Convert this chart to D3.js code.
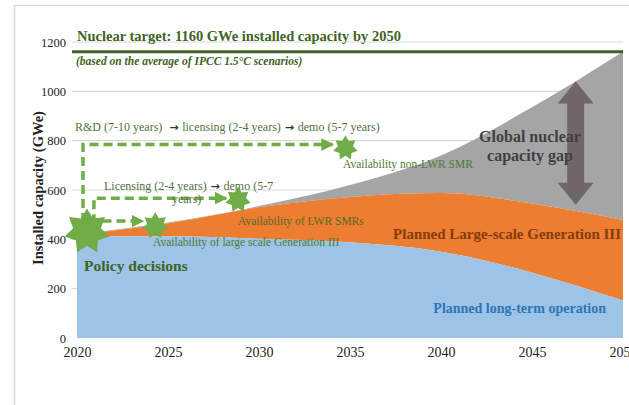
<!DOCTYPE html>
<html>
<head>
<meta charset="utf-8">
<script src="https://cdn.jsdelivr.net/npm/d3@7"></script>
<style>
  body { margin: 0; background: #fff; }
  svg { font-family: "Liberation Serif", "Times New Roman", serif; }
</style>
</head>
<body>
<div id="chart"></div>
<script>
// data (GWe)
const years = [2020, 2025, 2030, 2035, 2040, 2045, 2050];
const longTermOp = [412, 412, 402, 388, 350, 265, 152];
const largeScaleGen3 = [418, 465, 530, 572, 588, 545, 478];
const targetPath = [421, 468, 535, 620, 740, 935, 1160];
const target = 1160;
const yTicks = [0, 200, 400, 600, 800, 1000, 1200];
const xTicks = [2020, 2025, 2030, 2035, 2040, 2045, 2050];

// milestones
const stars = [
  {year: 2020.55, value: 432, r: 23, label: "Policy decisions"},
  {year: 2024.3, value: 455, r: 13.5, label: "Availability  of large scale Generation III"},
  {year: 2028.85, value: 560, r: 13, label: "Availability  of LWR SMRs"},
  {year: 2034.75, value: 770, r: 12.5, label: "Availability  non-LWR SMR"}
];
// dashed timelines (year, GWe)
const paths = [
  [[2020.33, 470], [2020.33, 784], [2034.05, 784]],
  [[2020.93, 465], [2020.93, 567], [2028.2, 567]],
  [[2021.4, 474], [2023.62, 474]]
];

const W = 629, H = 405;
const svg = d3.select("#chart").append("svg")
  .attr("width", W).attr("height", H);

const x = d3.scaleLinear().domain([2020, 2050]).range([77, 623]);
const y = d3.scaleLinear().domain([0, 1200]).range([338, 42]);

// outer frame
svg.append("path")
  .attr("d", "M14.5,405 V5.5 H629")
  .attr("fill", "none").attr("stroke", "#d9d9d9").attr("stroke-width", 1.5);

// gridlines
svg.append("g").selectAll("line").data(yTicks.filter(d => d > 0)).enter().append("line")
  .attr("x1", 72).attr("x2", x(2050))
  .attr("y1", d => y(d)).attr("y2", d => y(d))
  .attr("stroke", "#d9d9d9").attr("stroke-width", 1.2);

const rows = years.map((yr, i) => ({year: yr, a: longTermOp[i], b: largeScaleGen3[i], c: targetPath[i]}));

const area = (lo, hi) => d3.area()
  .x(d => x(d.year)).y0(d => y(lo(d))).y1(d => y(hi(d)))
  .curve(d3.curveMonotoneX);

svg.append("path").datum(rows).attr("fill", "#a5a5a5")
  .attr("d", area(d => d.b, d => d.c));
svg.append("path").datum(rows).attr("fill", "#ed7d31")
  .attr("d", area(d => d.a, d => d.b));
svg.append("path").datum(rows).attr("fill", "#9dc3e6")
  .attr("d", area(d => 0, d => d.a));

// target line
svg.append("line")
  .attr("x1", 72).attr("x2", x(2050))
  .attr("y1", y(target)).attr("y2", y(target))
  .attr("stroke", "#3f6424").attr("stroke-width", 3);

// axes
const yAxis = svg.append("g").attr("transform", `translate(${x(2020) - 8},0)`)
  .call(d3.axisLeft(y).tickValues(yTicks).tickFormat(d3.format("d")).tickSize(0).tickPadding(3));
yAxis.select(".domain").remove();
yAxis.selectAll("text").attr("font-size", "12.5px").attr("fill", "#222")
  .attr("font-family", "Liberation Serif, serif");

const xAxis = svg.append("g").attr("transform", `translate(0,${y(0)})`)
  .call(d3.axisBottom(x).tickValues(xTicks).tickFormat(d3.format("d")).tickSize(0).tickPadding(9));
xAxis.select(".domain").remove();
xAxis.selectAll("text").attr("font-size", "14px").attr("fill", "#222")
  .attr("font-family", "Liberation Serif, serif");

svg.append("text")
  .attr("transform", `translate(43,${y(600) - 2}) rotate(-90)`)
  .attr("text-anchor", "middle").attr("font-weight", "bold")
  .attr("font-size", "14.5px").attr("fill", "#222")
  .text("Installed capacity (GWe)");

// titles
svg.append("text").attr("x", 77).attr("y", 41)
  .attr("font-weight", "bold").attr("font-size", "14.5px").attr("fill", "#3f6424")
  .text("Nuclear target: 1160 GWe installed capacity by 2050");
svg.append("text").attr("x", 76).attr("y", 65)
  .attr("font-weight", "bold").attr("font-style", "italic")
  .attr("font-size", "11.5px").attr("fill", "#3f6424")
  .text("(based on the average of IPCC 1.5°C scenarios)");

// arrowhead
svg.append("defs").append("marker")
  .attr("id", "head").attr("viewBox", "0 0 10 10")
  .attr("refX", 9).attr("refY", 5)
  .attr("markerWidth", 3.6).attr("markerHeight", 3.6)
  .attr("markerUnits", "strokeWidth").attr("orient", "auto")
  .append("path").attr("d", "M0,0 L10,5 L0,10 Z").attr("fill", "#70ad47");

const green = "#70ad47";
const line = d3.line().x(d => x(d[0])).y(d => y(d[1]));
svg.append("g").selectAll("path").data(paths).enter().append("path")
  .attr("d", line)
  .attr("fill", "none").attr("stroke", green).attr("stroke-width", 3.5)
  .attr("stroke-dasharray", "9,5")
  .attr("marker-end", "url(#head)");

// timeline texts with bold arrows
const txtGreen = "#55703f";
function stepText(xp, yp, parts) {
  const t = svg.append("text").attr("x", xp).attr("y", yp)
    .attr("font-size", "12px").attr("fill", txtGreen).attr("xml:space", "preserve");
  parts.forEach((p, i) => {
    if (i > 0) t.append("tspan").attr("font-family", "DejaVu Sans, sans-serif")
      .attr("font-weight", "bold").attr("font-size", "11px").attr("fill", "#333").text(" \u2192 ");
    t.append("tspan").text(p);
  });
}
stepText(75, 131, ["R&D (7-10 years) ", "licensing (2-4 years)", "demo (5-7 years)"]);
stepText(104, 190, ["Licensing (2-4 years)", "demo (5-7"]);
svg.append("text").attr("x", 172).attr("y", 203)
  .attr("font-size", "12px").attr("fill", txtGreen)
  .text("years)");

// stars
const star = r => {
  const pts = d3.range(14).map(i => {
    const a = i * Math.PI / 7;
    const rr = i % 2 ? r * 0.62 : r;
    return [rr * Math.sin(a), -rr * Math.cos(a)];
  });
  return "M" + pts.join("L") + "Z";
};
svg.append("g").selectAll("path").data(stars).enter().append("path")
  .attr("transform", d => `translate(${x(d.year)},${y(d.value)})`)
  .attr("d", d => star(d.r))
  .attr("fill", green);

svg.append("text").attr("x", 84).attr("y", 271)
  .attr("font-weight", "bold").attr("font-size", "15.5px").attr("fill", "#3f6424")
  .text(stars[0].label);
svg.append("text").attr("x", 153).attr("y", 246)
  .attr("font-size", "11.5px").attr("fill", "#4f7a35")
  .text(stars[1].label);
svg.append("text").attr("x", 238).attr("y", 225)
  .attr("font-size", "11.5px").attr("fill", "#556b25")
  .text(stars[2].label);
svg.append("text").attr("x", 343).attr("y", 168)
  .attr("font-size", "11.5px").attr("fill", "#4f7a35")
  .text(stars[3].label);

// gap arrow
const ax = x(2047.4), arrTop = y(1040), arrBot = y(540);
svg.append("path")
  .attr("d", `M${ax},${arrTop} L${ax + 18},${arrTop + 22} L${ax + 8.5},${arrTop + 22} L${ax + 8.5},${arrBot - 22}
    L${ax + 18},${arrBot - 22} L${ax},${arrBot} L${ax - 18},${arrBot - 22} L${ax - 8.5},${arrBot - 22}
    L${ax - 8.5},${arrTop + 22} L${ax - 18},${arrTop + 22} Z`)
  .attr("fill", "#6f6767");

svg.append("text").attr("x", 530).attr("y", 142)
  .attr("text-anchor", "middle").attr("font-weight", "bold")
  .attr("font-size", "16px").attr("fill", "#404040")
  .text("Global nuclear");
svg.append("text").attr("x", 530).attr("y", 161)
  .attr("text-anchor", "middle").attr("font-weight", "bold")
  .attr("font-size", "16px").attr("fill", "#404040")
  .text("capacity gap");

svg.append("text").attr("x", 621).attr("y", 239)
  .attr("text-anchor", "end").attr("font-weight", "bold")
  .attr("font-size", "15px").attr("fill", "#843c0c")
  .text("Planned Large-scale Generation III");
svg.append("text").attr("x", 606).attr("y", 313)
  .attr("text-anchor", "end").attr("font-weight", "bold")
  .attr("font-size", "14px").attr("fill", "#2e75b6")
  .text("Planned long-term operation");
</script>
</body>
</html>
